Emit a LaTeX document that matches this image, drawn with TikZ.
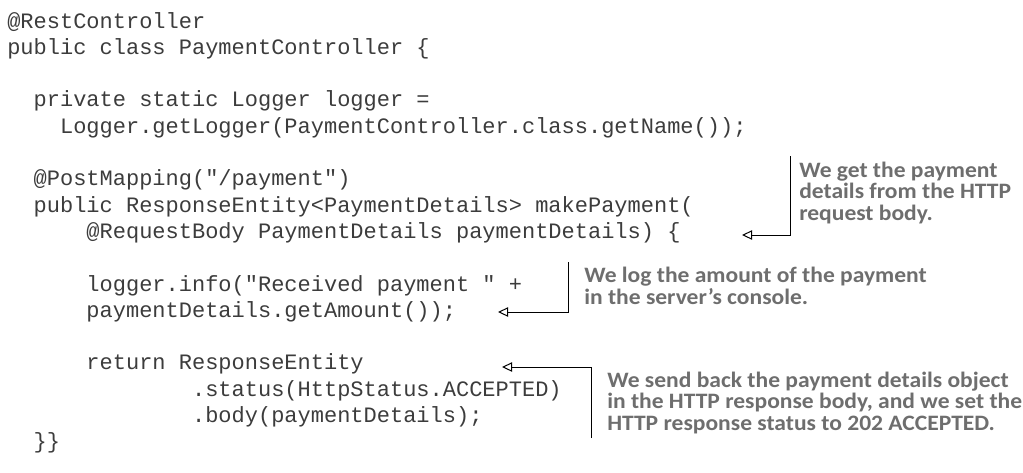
\documentclass[tikz,border=0pt]{standalone}
\usepackage{fontspec}
\setmonofont{Liberation Mono}
\newfontfamily\annfont[FakeStretch=1.07]{Carlito}
\usetikzlibrary{arrows.meta}
\definecolor{codecol}{RGB}{60,60,60}
\definecolor{anncol}{RGB}{110,110,110}
\tikzset{
  codeline/.style={anchor=base west, inner sep=0pt, font=\fontsize{16.5}{20}\ttfamily, text=codecol},
  note/.style={anchor=base west, inner sep=0pt, align=left, font=\fontsize{16.5}{16.1}\annfont\bfseries, text=anncol},
  callout/.style={draw=black, line width=0.75pt, -{Triangle[open,length=7.5pt,width=7pt]}},
}
\begin{document}
\begin{tikzpicture}[x=0.75pt,y=-0.75pt]
\useasboundingbox (0,0) rectangle (1023,472);
% code lines: x = 7 + indent*13.2, baseline = 28 + (k-1)*26.3
\node[codeline] (l1)  at (7,28)      {@RestController};
\node[codeline] (l2)  at (7,54.3)    {public class PaymentController \{};
\node[codeline] (l4)  at (33.4,106.9) {private static Logger logger =};
\node[codeline] (l5)  at (59.8,133.2) {Logger.getLogger(PaymentController.class.getName());};
\node[codeline] (l7)  at (33.4,185.8) {@PostMapping("/payment")};
\node[codeline] (l8)  at (33.4,212.1) {public ResponseEntity<PaymentDetails> makePayment(};
\node[codeline] (l9)  at (86.2,238.4) {@RequestBody PaymentDetails paymentDetails) \{};
\node[codeline] (l11) at (86.2,291)   {logger.info("Received payment " +};
\node[codeline] (l12) at (86.2,317.3) {paymentDetails.getAmount());};
\node[codeline] (l14) at (86.2,369.9) {return ResponseEntity};
\node[codeline] (l15) at (191.8,396.2) {.status(HttpStatus.ACCEPTED)};
\node[codeline] (l16) at (191.8,422.5) {.body(paymentDetails);};
\node[codeline] (l17) at (33.4,448.8) {\}\}};
% annotations (base = baseline of last line)
\node[note] (n1) at (799,220) {We get the payment\\details from the HTTP\\request body.};
\node[note] (n2) at (584,304) {We log the amount of the payment\\in the server’s console.};
\node[note] (n3) at (607,430) {We send back the payment details object\\in the HTTP response body, and we set the\\HTTP response status to 202 ACCEPTED.};
% callouts
\coordinate (a1s) at (790,156);
\coordinate (a1t) at (742,235);
\coordinate (a2s) at (568,262);
\coordinate (a2t) at (498,312);
\coordinate (a3s) at (591,438);
\coordinate (a3t) at (502,367);
\draw[callout] (a1s) |- (a1t);
\draw[callout] (a2s) |- (a2t);
\draw[callout] (a3s) |- (a3t);
\end{tikzpicture}
\end{document}
